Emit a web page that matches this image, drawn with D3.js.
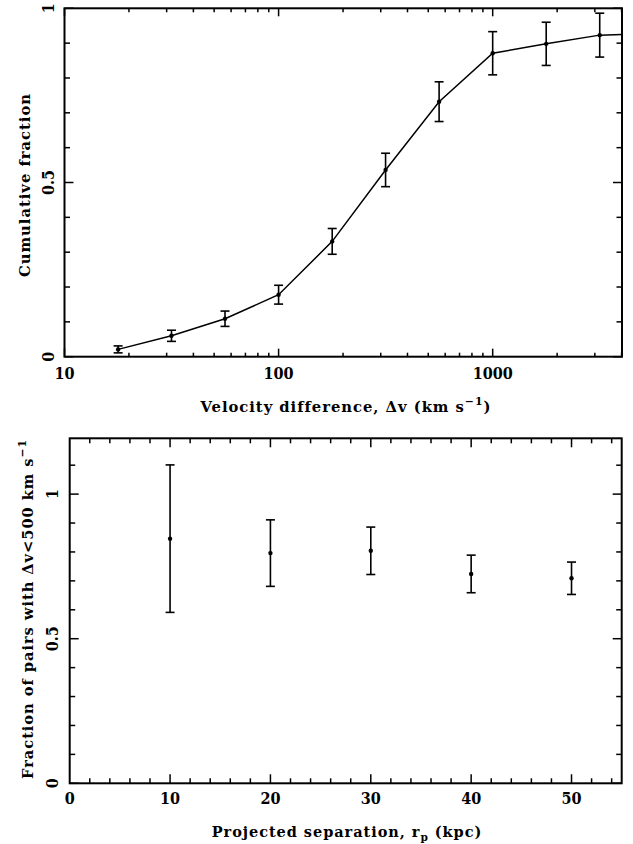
<!DOCTYPE html>
<html><head><meta charset="utf-8">
<script src="https://cdn.jsdelivr.net/npm/d3@7"></script>
<style>
html,body{margin:0;padding:0;background:#fff;}
svg text{font-family:"DejaVu Serif Condensed","DejaVu Serif",serif;font-stretch:condensed;font-weight:bold;fill:#000;}
svg text.title{letter-spacing:0.9px;}
</style></head>
<body><svg id="c" width="633" height="844"></svg>
<script>
// ---- data: top panel (cumulative fraction vs velocity difference)
const velocity = [17.8, 31.6, 56.2, 100, 178, 316, 562, 1000, 1778, 3162];
const cumFraction = [0.021, 0.060, 0.109, 0.178, 0.331, 0.536, 0.732, 0.871, 0.898, 0.923];
const cumError = [0.010, 0.016, 0.022, 0.027, 0.037, 0.048, 0.057, 0.062, 0.062, 0.063];
const lineTailVelocity = [4018];
const lineTailFraction = [0.925];
const topXMajor = [10, 100, 1000];
const topYMajor = [0, 0.5, 1];
const topYLabels = ["0", "0.5", "1"];

// ---- data: bottom panel (fraction with dv<500 vs projected separation)
const separation = [10, 20, 30, 40, 50];
const fracPairs = [0.846, 0.796, 0.804, 0.724, 0.709];
const fracError = [0.255, 0.115, 0.082, 0.065, 0.056];
const botXMajor = [0, 10, 20, 30, 40, 50];
const botYMajor = [0, 0.5, 1];
const botYLabels = ["0", "0.5", "1"];

const svg = d3.select("#c");
const FS = 16;   // tick labels
const TS = 15;   // axis titles

function frame(g, L, T, R, B) {
  g.append("rect").attr("x", L).attr("y", T).attr("width", R - L).attr("height", B - T)
    .attr("fill", "none").attr("stroke", "#000").attr("stroke-width", 2);
}
function xTicks(g, x, vals, len, T, B) {
  vals.forEach(v => {
    const px = x(v);
    g.append("line").attr("x1", px).attr("x2", px).attr("y1", B).attr("y2", B - len).attr("stroke", "#000").attr("stroke-width", 1.5);
    g.append("line").attr("x1", px).attr("x2", px).attr("y1", T).attr("y2", T + len).attr("stroke", "#000").attr("stroke-width", 1.5);
  });
}
function yTicks(g, y, vals, len, L, R) {
  vals.forEach(v => {
    const py = y(v);
    g.append("line").attr("y1", py).attr("y2", py).attr("x1", L).attr("x2", L + len).attr("stroke", "#000").attr("stroke-width", 1.5);
    g.append("line").attr("y1", py).attr("y2", py).attr("x1", R).attr("x2", R - len).attr("stroke", "#000").attr("stroke-width", 1.5);
  });
}
function fitTitle(txt, tx, ty, rot, target) {
  const w = txt.node().getComputedTextLength();
  const sx = target / w;
  txt.attr("x", 0).attr("y", 0)
    .attr("transform", `translate(${tx},${ty}) rotate(${rot}) scale(${sx},1)`);
}
function errorBars(g, x, y, xs, ys, es) {
  xs.forEach((v, i) => {
    const px = x(v), y1 = y(ys[i] + es[i]), y0 = y(ys[i] - es[i]);
    g.append("line").attr("x1", px).attr("x2", px).attr("y1", y0).attr("y2", y1).attr("stroke", "#000").attr("stroke-width", 1.6);
    [y0, y1].forEach(yy => g.append("line").attr("x1", px - 4.5).attr("x2", px + 4.5).attr("y1", yy).attr("y2", yy).attr("stroke", "#000").attr("stroke-width", 1.6));
    g.append("circle").attr("cx", px).attr("cy", y(ys[i])).attr("r", 2.2).attr("fill", "#000");
  });
}

// ================= TOP PANEL =================
{
  const L = 64.5, R = 622, T = 8.3, B = 356.7;
  const x = d3.scaleLog().domain([10, 4018]).range([L, R]);
  const y = d3.scaleLinear().domain([0, 1]).range([B, T]);
  const g = svg.append("g");

  const minor = [];
  [10, 100, 1000].forEach(d => { for (let k = 2; k <= 9; k++) { const v = d * k; if (v < 4018) minor.push(v); } });
  xTicks(g, x, minor, 4, T, B);
  xTicks(g, x, topXMajor, 8, T, B);
  const yMinor = d3.range(1, 10).map(k => k / 10).filter(v => Math.abs(v - 0.5) > 1e-6);
  yTicks(g, y, yMinor, 5.5, L, R);
  yTicks(g, y, topYMajor, 9, L, R);
  frame(g, L, T, R, B);

  topXMajor.forEach(v => {
    g.append("text").attr("x", x(v)).attr("y", B + 22.5).attr("text-anchor", "middle")
      .attr("font-size", FS).text(d3.format("d")(v));
  });
  topYMajor.forEach((v, i) => {
    g.append("text").attr("transform", `translate(${L - 11},${y(v)}) rotate(-90)`)
      .attr("text-anchor", "middle").attr("font-size", FS).text(topYLabels[i]);
  });

  const pts = velocity.map((v, i) => [v, cumFraction[i]])
    .concat(lineTailVelocity.map((v, i) => [v, lineTailFraction[i]]));
  g.append("path").datum(pts)
    .attr("d", d3.line().x(d => x(d[0])).y(d => y(d[1])))
    .attr("fill", "none").attr("stroke", "#000").attr("stroke-width", 1.5);

  errorBars(g, x, y, velocity, cumFraction, cumError);

  const xt = g.append("text").attr("class", "title").attr("text-anchor", "middle").attr("font-size", TS);
  xt.append("tspan").text("Velocity difference, \u0394v (km s");
  xt.append("tspan").attr("dy", -7).attr("font-size", 11).text("\u22121");
  xt.append("tspan").attr("dy", 7).text(")");
  fitTitle(xt, 346, 411.7, 0, 291);
  const yt = g.append("text").attr("class", "title").attr("text-anchor", "middle").attr("font-size", TS).text("Cumulative fraction");
  fitTitle(yt, 30, 185, -90, 184);
}

// ================= BOTTOM PANEL =================
{
  const L = 69.7, R = 621.7, T = 438.3, B = 783.3;
  const x = d3.scaleLinear().domain([0, 55]).range([L, R]);
  const y = d3.scaleLinear().domain([0, 1.193]).range([B, T]);
  const g = svg.append("g");

  const xMinor = d3.range(2, 55, 2).filter(v => v % 10 !== 0);
  xTicks(g, x, xMinor, 5, T, B);
  xTicks(g, x, botXMajor.filter(v => v > 0), 9, T, B);
  const yMinor = d3.range(1, 12).map(k => k / 10).filter(v => Math.abs(v - 0.5) > 1e-6 && Math.abs(v - 1) > 1e-6);
  yTicks(g, y, yMinor, 5.5, L, R);
  yTicks(g, y, botYMajor, 9, L, R);
  frame(g, L, T, R, B);

  botXMajor.forEach(v => {
    g.append("text").attr("x", x(v)).attr("y", B + 20.5).attr("text-anchor", "middle")
      .attr("font-size", FS).text(v);
  });
  botYMajor.forEach((v, i) => {
    g.append("text").attr("transform", `translate(${L - 11.4},${y(v)}) rotate(-90)`)
      .attr("text-anchor", "middle").attr("font-size", FS).text(botYLabels[i]);
  });

  errorBars(g, x, y, separation, fracPairs, fracError);

  const xt = g.append("text").attr("class", "title").attr("text-anchor", "middle").attr("font-size", TS);
  xt.append("tspan").text("Projected separation, r");
  xt.append("tspan").attr("dy", 4).attr("font-size", 11).text("p");
  xt.append("tspan").attr("dy", -4).text(" (kpc)");
  fitTitle(xt, 347, 836.7, 0, 271);
  const yt = g.append("text").attr("class", "title").attr("text-anchor", "middle").attr("font-size", TS);
  yt.append("tspan").text("Fraction of pairs with \u0394v<500 km s");
  yt.append("tspan").attr("dy", -7).attr("font-size", 11).text("\u22121");
  fitTitle(yt, 33, 609, -90, 340);
}
</script></body></html>
